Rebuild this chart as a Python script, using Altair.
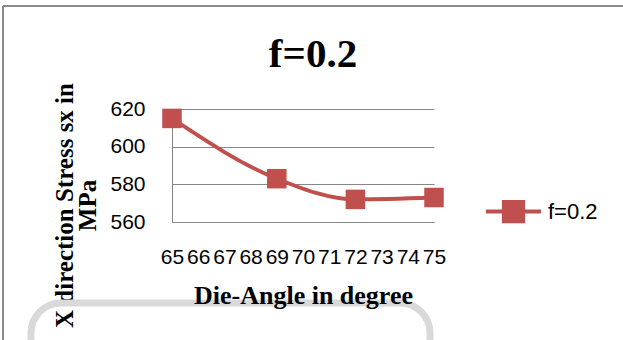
import altair as alt
import pandas as pd

# Die angle (degrees) against X-direction stress (MPa) for friction f = 0.2
angles = [65, 69, 72, 75]
stress = [615, 583, 572, 573]
series = ["f=0.2"] * len(angles)
x_ticks = list(range(65, 76))
y_ticks = [560, 580, 600, 620]
chart_title = "f=0.2"

df = pd.DataFrame({"angle": angles, "stress": stress, "series": series})
one = pd.DataFrame({"k": [0]})

RED = "#c0504d"
GRID = "#868686"
SANS = "Liberation Sans"
SERIF = "Liberation Serif"

# plot area placement inside the 623x340 canvas
LEFT, TOP, W, H = 172, 109, 262, 113
RIGHT, BOTTOM = 623 - LEFT - W, 340 - TOP - H

x_enc = alt.X(
    "angle:Q",
    scale=alt.Scale(domain=[65, 75], nice=False, zero=False),
    axis=alt.Axis(
        values=x_ticks, labelOverlap=False, labelFlush=False, grid=False, ticks=False,
        domainColor=GRID, domainWidth=1,
        labelFont=SANS, labelFontSize=21, labelColor="#000", labelPadding=41,
        labelBaseline="alphabetic",
        title="Die-Angle in degree", titleFont=SERIF, titleFontWeight="bold",
        titleFontSize=26, titleColor="#000", titleX=W / 2, titleY=81,
        titleBaseline="alphabetic", zindex=1,
    ),
)
y_enc = alt.Y(
    "stress:Q",
    scale=alt.Scale(domain=[560, 620], nice=False, zero=False),
    axis=alt.Axis(
        values=y_ticks, labelOverlap=False, ticks=False, grid=True,
        gridColor=GRID, gridWidth=1, domainColor=GRID, domainWidth=1,
        labelFont=SANS, labelFontSize=21, labelColor="#000", labelPadding=27,
        title=["X direction Stress sx in", "MPa"], titleFont=SERIF,
        titleFontWeight="bold", titleFontSize=25, titleColor="#000",
        titleLineHeight=23, titleAngle=270, titleAlign="center",
        titleBaseline="alphabetic", titleX=-100, titleY=96,
    ),
)
color = alt.Color(
    "series:N",
    scale=alt.Scale(range=[RED]),
    legend=alt.Legend(
        title=None, orient="none", legendX=312, legendY=73, padding=0,
        symbolType="M-1,0L1,0M-0.35,-0.35H0.35V0.35H-0.35Z",
        symbolSize=3025, symbolStrokeWidth=4,
        symbolFillColor=RED, symbolStrokeColor=RED,
        labelFont=SANS, labelFontSize=22, labelColor="#000", labelOffset=5,
    ),
)

base = alt.Chart(df).encode(x=x_enc, y=y_enc, color=color)
line = base.mark_line(strokeWidth=3.8, interpolate="monotone")
points = base.mark_point(shape="square", filled=True, size=380, opacity=1)

# chart heading
heading = alt.Chart(one).mark_text(
    text=chart_title, font=SERIF, fontWeight="bold", fontSize=41, color="#000",
    align="center", baseline="alphabetic",
).encode(x=alt.value(313 - LEFT), y=alt.value(67 - TOP))

# outer frame (top and left edges)
frame_top = alt.Chart(one).mark_rule(color="#8c8c8c", strokeWidth=2).encode(
    x=alt.value(3 - LEFT), x2=alt.value(623 - LEFT), y=alt.value(6 - TOP)
)
frame_left = alt.Chart(one).mark_rule(color="#8c8c8c", strokeWidth=2).encode(
    x=alt.value(3 - LEFT), y=alt.value(6 - TOP), y2=alt.value(340 - TOP)
)
# rounded box peeking in below the chart
box = alt.Chart(one).mark_rect(
    cornerRadius=30, fill="transparent", stroke="#d9d9d9", strokeWidth=7
).encode(
    x=alt.value(31 - LEFT), x2=alt.value(430 - LEFT),
    y=alt.value(303 - TOP), y2=alt.value(420 - TOP),
)

chart = (
    alt.layer(box, frame_top, frame_left, heading, line, points)
    .properties(
        width=W, height=H,
        autosize=alt.AutoSizeParams(type="none"),
        padding={"left": LEFT, "top": TOP, "right": RIGHT, "bottom": BOTTOM},
        background="white",
    )
    .configure_view(stroke=None)
    .configure_axis(labelOverlap=False)
)

chart.save("out.html", embed_options={"renderer": "svg", "actions": False})
